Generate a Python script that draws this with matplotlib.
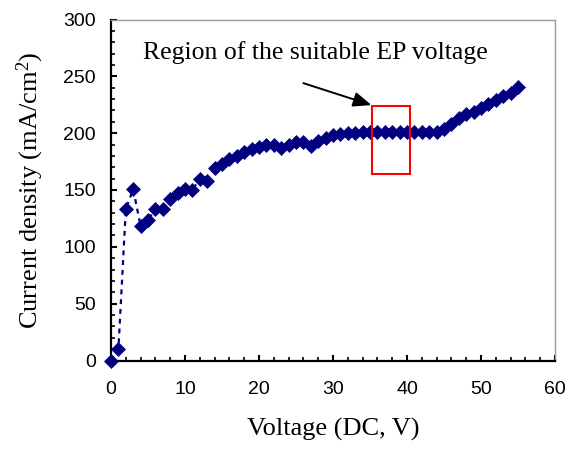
import matplotlib
matplotlib.use("Agg")
import matplotlib.pyplot as plt
from matplotlib.ticker import MultipleLocator
from matplotlib.patches import Rectangle

plt.rcParams["mathtext.fontset"] = "custom"
plt.rcParams["mathtext.rm"] = "Liberation Serif"
plt.rcParams["mathtext.it"] = "Liberation Serif:italic"

voltage = list(range(0, 56))
current = [0, 10, 133, 151, 118, 124, 133, 133, 142, 147,
           151, 150, 160, 158, 169, 173, 177, 180, 183, 186,
           188, 190, 190, 187, 190, 192, 192, 189, 193, 196,
           198, 199, 200, 200, 201, 201, 201, 201, 201, 201,
           201, 201, 201, 201, 201, 204, 208, 213, 217, 219,
           222, 226, 229, 233, 235, 241]

region_x = [35.3, 40.4]
region_y = [164, 224]
arrow_tail = (26, 244)
arrow_head = (35.2, 224.7)
annot_text = "Region of the suitable EP voltage"
annot_pos = (4.3, 265)

fig = plt.figure(figsize=(5.67, 4.5), dpi=100)
ax = fig.add_axes([111/567, 1 - 360.5/450, (555-111)/567, (360.5-19.5)/450])

navy = "#000080"
ax.plot(voltage, current, color=navy, linestyle=(0, (2.2, 2.2)), linewidth=1.6,
        marker="D", markersize=6.8, markerfacecolor=navy, markeredgecolor=navy,
        markeredgewidth=0.5, clip_on=False, zorder=3)

ax.set_xlim(0, 60)
ax.set_ylim(0, 300)
ax.xaxis.set_major_locator(MultipleLocator(10))
ax.xaxis.set_minor_locator(MultipleLocator(2))
ax.yaxis.set_major_locator(MultipleLocator(50))
ax.yaxis.set_minor_locator(MultipleLocator(10))

for s in ["left", "bottom"]:
    ax.spines[s].set_linewidth(1.6)
    ax.spines[s].set_color("black")
for s in ["top", "right"]:
    ax.spines[s].set_linewidth(1.0)
    ax.spines[s].set_color("#9a9a9a")

ax.tick_params(which="major", direction="in", length=4.5, width=1.5, top=False, right=False,
               labelsize=14, colors="black")
ax.tick_params(which="minor", direction="in", length=3, width=1.2, top=False, right=False)
ax.tick_params(axis="x", which="major", pad=15)
ax.tick_params(axis="y", which="major", pad=11)
for lab in ax.get_xticklabels() + ax.get_yticklabels():
    lab.set_fontfamily("Liberation Sans")

ax.set_xlabel("Voltage (DC, V)", fontfamily="Liberation Serif", fontsize=19, labelpad=14)
ax.set_ylabel("Current density (mA/cm$^2$)", fontfamily="Liberation Serif", fontsize=19, labelpad=12)

ax.add_patch(Rectangle((region_x[0], region_y[0]), region_x[1]-region_x[0], region_y[1]-region_y[0],
                       fill=False, edgecolor="red", linewidth=1.5, zorder=4))
ax.annotate("", xy=arrow_head, xytext=arrow_tail,
            arrowprops=dict(arrowstyle="-|>,head_length=1.1,head_width=0.45", color="black", lw=1.4,
                            shrinkA=0, shrinkB=0), zorder=5)
ax.text(annot_pos[0], annot_pos[1], annot_text, fontfamily="Liberation Serif", fontsize=18.5,
        ha="left", va="baseline")

fig.savefig("out.png", dpi=100)
